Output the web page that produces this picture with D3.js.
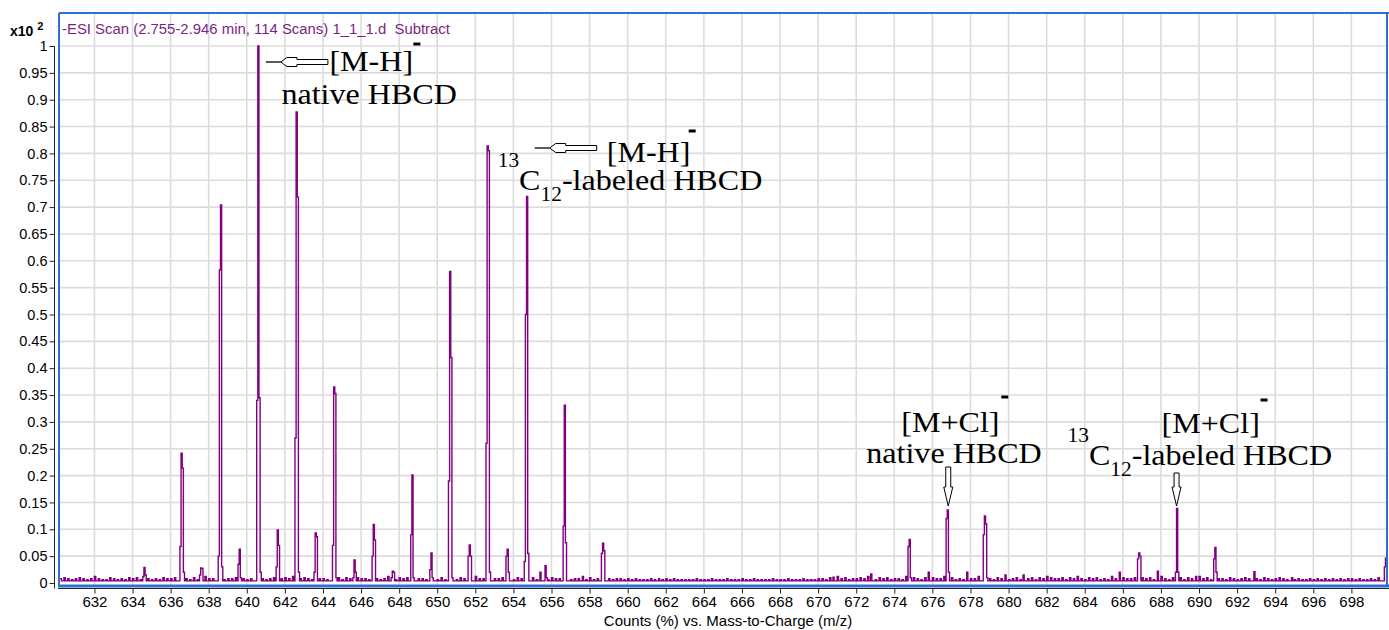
<!DOCTYPE html>
<html><head><meta charset="utf-8">
<script src="https://cdn.jsdelivr.net/npm/d3@7"></script>
<style>html,body{margin:0;padding:0;background:#fff;}svg{display:block;}</style>
</head><body>
<svg id="chart" width="1389" height="630"></svg>
<script>
// ---------- data ----------
const chartTitle = "-ESI Scan (2.755-2.946 min, 114 Scans) 1_1_1.d\u00a0 Subtract";
const xAxisTitle = "Counts (%) vs. Mass-to-Charge (m/z)";
const xTickValues = [632,634,636,638,640,642,644,646,648,650,652,654,656,658,660,662,664,666,668,670,672,674,676,678,680,682,684,686,688,690,692,694,696,698];
const yTickValues = [0,0.05,0.1,0.15,0.2,0.25,0.3,0.35,0.4,0.45,0.5,0.55,0.6,0.65,0.7,0.75,0.8,0.85,0.9,0.95,1];
const yTickLabels = ["0","0.05","0.1","0.15","0.2","0.25","0.3","0.35","0.4","0.45","0.5","0.55","0.6","0.65","0.7","0.75","0.8","0.85","0.9","0.95","1"];

// baseline "grass": one digit per 0.2 m/z starting at 630.2, unit = 0.002 (x10^2 counts)
const noiseStartMz = 630.2;
const noiseStepMz = 0.2;
const noiseLevels =
  "23212321242113212132312212132231221312422131223121" +
  "21321231232412321322142313213221321242132313221231" +
  "31221323142213223121321231231322131222131213212212" +
  "12111211121211111211121112111211211112111211121112" +
  "21314231223242132312214232131322423121322413213221" +
  "23132313243223132421323121421322313231242132313224" +
  "23132213212321213212321212112121212121221211213";

// peaks: centre m/z and profile heights sampled across the peak
const peakCenters = [634.60,636.58,637.58,638.59,639.60,640.61,641.60,642.62,643.59,644.59,645.63,646.64,647.64,648.67,649.67,650.68,651.68,652.65,653.67,654.66,655.39,655.69,656.67,657.62,658.68,661.62,670.78,672.76,674.78,675.78,676.78,677.80,678.76,679.81,680.76,685.81,686.83,687.81,688.82,689.82,690.83,692.88,694.86,699.76];
const peakProfiles = [
  [0.012,0.029,0.015],
  [0.068,0.2415,0.214,0.02],
  [0.015,0.028,0.027],
  [0.05,0.583,0.704,0.03],
  [0.035,0.063,0.01],
  [0.34,1.0,0.345,0.02],
  [0.03,0.099,0.07],
  [0.27,0.877,0.719,0.02],
  [0.02,0.093,0.086],
  [0.07,0.365,0.353,0.01],
  [0.01,0.043,0.02],
  [0.05,0.109,0.08],
  [0.01,0.022,0.02],
  [0.09,0.201,0.01],
  [0.025,0.056,0.01],
  [0.19,0.58,0.42,0.01],
  [0.05,0.071,0.05],
  [0.26,0.814,0.805,0.02],
  [0.05,0.063,0.02],
  [0.04,0.50,0.72,0.055],
  [0.02],
  [0.032,0.01],
  [0.106,0.331,0.075],
  [0.012],
  [0.055,0.074,0.06],
  [0.008],
  [0.011],
  [0.017],
  [0.068,0.081,0.01],
  [0.02],
  [0.12,0.136,0.02],
  [0.02],
  [0.09,0.125,0.11,0.01],
  [0.015],
  [0.015],
  [0.02],
  [0.045,0.056,0.05],
  [0.022],
  [0.02,0.139,0.02],
  [0.012],
  [0.045,0.066,0.02],
  [0.021],
  [0.01],
  [0.03,0.046]
];

// ---------- layout ----------
const W = 1389, H = 630;
const plot = {left: 59, right: 1387, top: 13, bottom: 587};
const x = d3.scaleLinear().domain([630.14, 699.87]).range([plot.left, plot.right]);
const y = d3.scaleLinear().domain([0, 1]).range([583, 46]);

const svg = d3.select("#chart");
svg.append("rect").attr("width", W).attr("height", H).attr("fill", "#fff");

const sans = "'Liberation Sans', Arial, sans-serif";
const serif = "'Liberation Serif', 'Times New Roman', serif";

svg.append("clipPath").attr("id", "plotclip").append("rect")
  .attr("x", plot.left).attr("y", plot.top)
  .attr("width", plot.right - plot.left).attr("height", plot.bottom - plot.top - 1);

// grid
const grid = svg.append("g").attr("clip-path", "url(#plotclip)");
grid.selectAll("line.v").data(xTickValues).join("line")
  .attr("x1", d => x(d)).attr("x2", d => x(d))
  .attr("y1", plot.top).attr("y2", plot.bottom)
  .attr("stroke", "#dcdcdc").attr("stroke-width", 1.6);
grid.selectAll("line.h").data(yTickValues.filter(v => v > 0)).join("line")
  .attr("x1", plot.left).attr("x2", plot.right)
  .attr("y1", d => y(d)).attr("y2", d => y(d))
  .attr("stroke", "#dcdcdc").attr("stroke-width", 1.6);

// build profile
const baseLevel = 0.004;
const peakSpacing = 0.06;
const peakWindows = peakCenters.map((c, i) => {
  const n = peakProfiles[i].length;
  const start = c - (n - 1) / 2 * peakSpacing;
  return {c, start, end: start + n * peakSpacing, h: peakProfiles[i]};
});
const pts = [];
for (let i = 0; i < noiseLevels.length; i++) {
  const mz = noiseStartMz + i * noiseStepMz;
  const inside = peakWindows.some(p => mz > p.start - 0.12 && mz < p.end + 0.02);
  if (!inside) {
    pts.push([mz, baseLevel + (+noiseLevels[i]) * 0.002]);
    pts.push([mz + 0.07, baseLevel]);
  }
}
peakWindows.forEach(p => {
  p.h.forEach((v, k) => pts.push([p.start + k * peakSpacing, v]));
  pts.push([p.end, baseLevel]);
});
pts.sort((a, b) => a[0] - b[0]);

const line = d3.line().x(d => x(d[0])).y(d => y(d[1])).curve(d3.curveStepAfter);
svg.append("path").datum(pts).attr("clip-path", "url(#plotclip)")
  .attr("d", line).attr("fill", "none")
  .attr("stroke", "#800080").attr("stroke-width", 1.4).attr("stroke-linejoin", "miter");

// frame
const blue = "#2f6fd3";
svg.append("line").attr("x1", plot.left).attr("x2", W).attr("y1", plot.top).attr("y2", plot.top)
  .attr("stroke", blue).attr("stroke-width", 2);
svg.append("line").attr("x1", plot.left).attr("x2", plot.left).attr("y1", plot.top).attr("y2", plot.bottom)
  .attr("stroke", blue).attr("stroke-width", 2);
svg.append("line").attr("x1", plot.right).attr("x2", plot.right).attr("y1", plot.top).attr("y2", plot.bottom)
  .attr("stroke", blue).attr("stroke-width", 2);
svg.append("line").attr("x1", plot.left - 1).attr("x2", W).attr("y1", 586).attr("y2", 586)
  .attr("stroke", blue).attr("stroke-width", 3);

// y axis
const yAxis = d3.axisLeft(y).tickValues(yTickValues)
  .tickFormat((d, i) => yTickLabels[i]).tickSize(5).tickPadding(2);
const gy = svg.append("g").attr("transform", "translate(54.5,0)").call(yAxis);
gy.select(".domain").attr("d", `M0,${y(1)}V588.5`).attr("stroke", "#222");
gy.selectAll(".tick line").attr("stroke", "#222");
gy.selectAll("text").attr("font-family", sans).attr("font-size", 14.5).attr("fill", "#000");

// x axis
const xAxis = d3.axisBottom(x).tickValues(xTickValues).tickFormat(d3.format("d")).tickSize(5).tickPadding(3);
const gx = svg.append("g").attr("transform", "translate(0,588.5)").call(xAxis);
gx.select(".domain").attr("d", `M${plot.left - 1},0H${W}`).attr("stroke", "#222");
gx.selectAll(".tick line").attr("stroke", "#222");
gx.selectAll("text").attr("font-family", sans).attr("font-size", 15).attr("fill", "#000");

svg.append("text").attr("x", 728).attr("y", 626).attr("text-anchor", "middle")
  .attr("font-family", sans).attr("font-size", 15).attr("fill", "#000").text(xAxisTitle);

// title & exponent
svg.append("text").attr("x", 62).attr("y", 34).attr("font-family", sans).attr("font-size", 14.9)
  .attr("fill", "#7b1f86").text(chartTitle);
const ex = svg.append("text").attr("x", 10).attr("y", 36).attr("font-family", sans)
  .attr("font-size", 14).attr("font-weight", "bold").attr("fill", "#000");
ex.append("tspan").text("x10 ");
ex.append("tspan").attr("dy", -6).attr("font-size", 11).text("2");

// ---------- annotations ----------
const ann = svg.append("g").attr("fill", "#000").attr("font-family", serif);
const stretch = 1.07;
function txt(tx, ty, s, size) {
  return ann.append("text").attr("transform", `translate(${tx},${ty}) scale(${stretch},1)`)
    .attr("font-size", size).text(s);
}
function minus(tx, ty) {
  ann.append("rect").attr("x", tx).attr("y", ty - 1.5).attr("width", 7).attr("height", 3).attr("fill", "#000");
}
function leftArrow(tx, ty) {
  ann.append("line").attr("x1", tx - 15).attr("x2", tx).attr("y1", ty).attr("y2", ty)
    .attr("stroke", "#000").attr("stroke-width", 1.3);
  ann.append("path")
    .attr("d", `M${tx},${ty} L${tx + 6},${ty - 4.5} H${tx + 16} V${ty - 2.5} H${tx + 47} V${ty + 2.5} H${tx + 16} V${ty + 4.5} H${tx + 6} Z`)
    .attr("fill", "#fff").attr("stroke", "#000").attr("stroke-width", 1);
}
function downArrow(cx, ty, tipY) {
  ann.append("path")
    .attr("d", `M${cx - 2.5},${ty} H${cx + 2.5} V${tipY - 19} H${cx + 4.5} L${cx},${tipY} L${cx - 4.5},${tipY - 19} H${cx - 2.5} Z`)
    .attr("fill", "#fff").attr("stroke", "#000").attr("stroke-width", 1);
}
// "13C12-labeled HBCD" as one text; tx = left of "13", ty = baseline of "C"
function labeled(tx, ty) {
  const t = ann.append("text").attr("transform", `translate(${tx},${ty}) scale(${stretch},1)`).attr("font-size", 30);
  t.append("tspan").attr("dy", -23).attr("font-size", 20).text("13");
  t.append("tspan").attr("dy", 23).text("C");
  t.append("tspan").attr("dy", 11).attr("font-size", 20).text("12");
  t.append("tspan").attr("dy", -11).text("-labeled HBCD");
}

// native [M-H]-
const a1x = x(640.61);
leftArrow(a1x + 22.5, 62);
txt(a1x + 71, 71, "[M-H]", 30);
minus(a1x + 155, 44);
txt(a1x + 23, 104, "native HBCD", 30);

// 13C12 [M-H]-
const a2x = x(652.65);
leftArrow(a2x + 62, 148);
txt(a2x + 119, 162, "[M-H]", 30);
minus(a2x + 201, 131);
labeled(a2x + 10, 190);

// native [M+Cl]-
const a3x = x(676.78);
txt(a3x - 46, 432, "[M+Cl]", 30);
minus(a3x + 54, 397);
txt(a3x - 81, 463, "native HBCD", 30);
downArrow(a3x + 1, 467, 506);

// 13C12 [M+Cl]-
const a4x = x(688.82);
txt(a4x - 15, 433, "[M+Cl]", 30);
minus(a4x + 84, 400);
labeled(a4x - 109, 465);
downArrow(a4x, 473, 506);
</script>
</body></html>
